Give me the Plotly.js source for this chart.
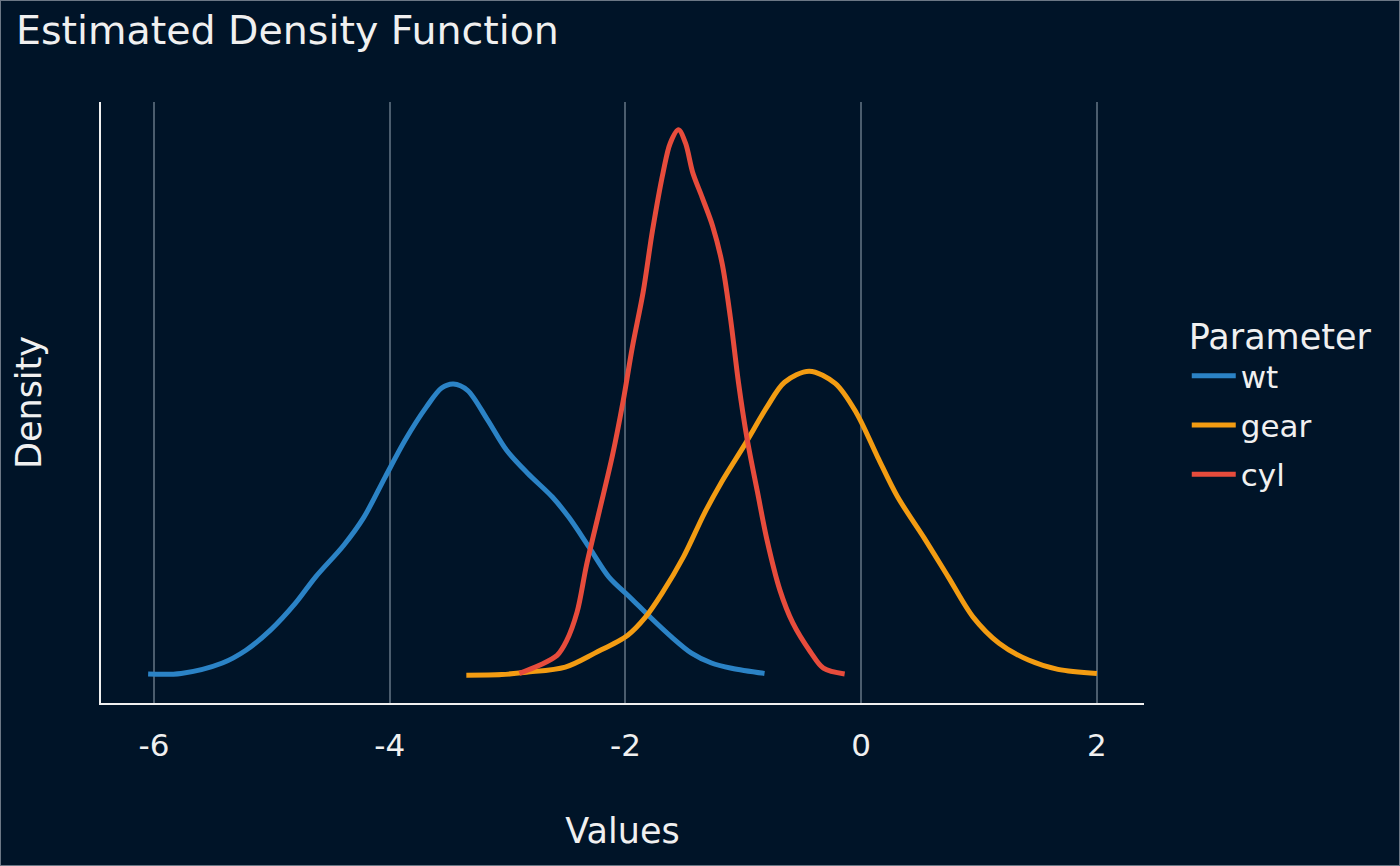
<!DOCTYPE html>
<html>
<head>
<meta charset="utf-8">
<script src="https://cdn.plot.ly/plotly-3.0.1.min.js"></script>
<style>
  body { margin: 0; background: #001428; }
  #wrap { position: relative; width: 1400px; height: 866px; }
  #frame { position: absolute; left: 0; top: 0; width: 1398px; height: 864px; border: 1px solid #6b7785; pointer-events: none; }
</style>
</head>
<body>
<div id="wrap">
  <div id="myDiv" style="width:1400px;height:866px;"></div>
  <div id="frame"></div>
</div>
<script>
// valores (densidade estimada)
const wtX = [-6.05, -5.77, -5.42, -5.22, -5.01, -4.80, -4.63, -4.39, -4.22, -4.04, -3.87, -3.69, -3.56, -3.46, -3.34, -3.17, -3.01, -2.83, -2.62, -2.48, -2.31, -2.14, -1.96, -1.79, -1.61, -1.44, -1.27, -1.10, -0.82]
const wtY = [0.002, 0.003, 0.021, 0.043, 0.078, 0.124, 0.169, 0.224, 0.272, 0.341, 0.405, 0.462, 0.495, 0.502, 0.491, 0.440, 0.388, 0.348, 0.307, 0.272, 0.221, 0.169, 0.134, 0.100, 0.066, 0.038, 0.021, 0.012, 0.003]

const gearX = [-3.35, -3.05, -2.84, -2.51, -2.26, -1.98, -1.83, -1.69, -1.51, -1.33, -1.19, -0.98, -0.80, -0.65, -0.44, -0.22, -0.04, 0.14, 0.31, 0.53, 0.74, 0.95, 1.17, 1.42, 1.67, 2.00]
const gearY = [0.000, 0.001, 0.005, 0.014, 0.038, 0.069, 0.100, 0.141, 0.203, 0.279, 0.331, 0.400, 0.462, 0.505, 0.524, 0.503, 0.452, 0.376, 0.307, 0.238, 0.169, 0.100, 0.055, 0.026, 0.010, 0.003]

const cylX = [-2.90, -2.73, -2.58, -2.50, -2.41, -2.33, -2.22, -2.11, -2.02, -1.94, -1.85, -1.77, -1.68, -1.62, -1.55, -1.49, -1.43, -1.35, -1.26, -1.18, -1.11, -1.04, -0.97, -0.88, -0.80, -0.69, -0.58, -0.43, -0.32, -0.14]
const cylY = [0.003, 0.017, 0.034, 0.059, 0.109, 0.190, 0.284, 0.379, 0.472, 0.567, 0.660, 0.767, 0.867, 0.917, 0.940, 0.917, 0.867, 0.824, 0.774, 0.710, 0.617, 0.503, 0.410, 0.316, 0.234, 0.147, 0.090, 0.040, 0.012, 0.002]

const tickVals = [-6, -4, -2, 0, 2]
const tickLabels = ["-6", "-4", "-2", "0", "2"]

const fonte = "DejaVu Sans, sans-serif"
const textoCor = "#f0f0f0"

function linha(x, y, nome, cor) {
  return {
    x: x,
    y: y,
    mode: "lines",
    type: "scatter",
    name: nome,
    legendgroup: nome,
    line: { color: cor, width: 5, shape: "spline", smoothing: 0.9 },
  }
}

const data = [
  linha(wtX, wtY, "wt", "#2b83c6"),
  linha(gearX, gearY, "gear", "#f39c12"),
  linha(cylX, cylY, "cyl", "#e74c3c"),
]

const layout = {
  width: 1400,
  height: 866,
  paper_bgcolor: "#001428",
  plot_bgcolor: "#001428",
  font: { family: fonte, color: textoCor, size: 30 },
  margin: { l: 101, r: 256, t: 102, b: 163 },
  title: {
    text: "Estimated Density Function",
    x: 16 / 1400,
    xanchor: "left",
    y: 1 - 30 / 866,
    yanchor: "middle",
    font: { size: 39.5, color: textoCor },
  },
  xaxis: {
    range: [-6.45, 2.4],
    tickvals: tickVals,
    ticktext: tickLabels,
    ticks: "",
    ticklabelstandoff: 14,
    tickfont: { size: 31, color: textoCor },
    showgrid: true,
    gridcolor: "rgba(150,165,180,0.5)",
    gridwidth: 2,
    zeroline: false,
    showline: true,
    linecolor: "#f0f0f0",
    linewidth: 2,
    title: { text: "Values", standoff: 56, font: { size: 35, color: textoCor } },
  },
  yaxis: {
    range: [-0.048, 0.988],
    showticklabels: false,
    ticks: "",
    showgrid: false,
    zeroline: false,
    showline: true,
    linecolor: "#f0f0f0",
    linewidth: 2,
    title: { text: "Density", standoff: 47, font: { size: 35, color: textoCor } },
  },
  legend: {
    title: { text: "Parameter", font: { size: 35, color: textoCor } },
    font: { size: 31, color: textoCor },
    x: 1.041,
    xanchor: "left",
    y: 0.5,
    yanchor: "middle",
    bgcolor: "rgba(0,0,0,0)",
    tracegroupgap: 6,
    itemwidth: 44,
  },
  showlegend: true,
}

Plotly.newPlot("myDiv", data, layout, { displayModeBar: false })
</script>
</body>
</html>
